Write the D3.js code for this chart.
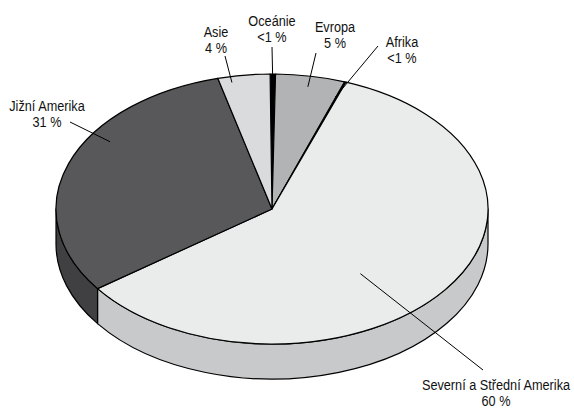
<!DOCTYPE html>
<html>
<head>
<meta charset="utf-8">
<script src="https://cdn.jsdelivr.net/npm/d3@7"></script>
<style>
  body { margin: 0; background: #fff; }
  svg text { font-family: "Liberation Sans", Arial, sans-serif; font-size: 15.5px; fill: #111; }
</style>
</head>
<body>
<div id="chart"></div>
<script>
// data, clockwise from the top
const regions = ['Oceánie', 'Evropa', 'Afrika', 'Severní a Střední Amerika', 'Jižní Amerika', 'Asie'];
const shares  = [0.4, 5.2, 0.1, 59.4, 31.0, 3.9];
const shareLabels = ['<1 %', '5 %', '<1 %', '60 %', '31 %', '4 %'];

// look
const topColors  = ['#000000', '#b2b3b4', '#eaeceb', '#eaeceb', '#58585a', '#dadbdc'];
const sideColors = ['#000000', '#8e8f90', '#c8c9cb', '#c8c9cb', '#404042', '#b4b5b7'];

// label layout: text centre, first baseline, leader end (angle in deg, radius factor)
const labelPos = [
  {x: 272, y: 26,  a: 0.2,   k: 0.96},
  {x: 335, y: 32,  a: 10.4,  k: 0.92},
  {x: 402, y: 47,  a: 19.5,  k: 0.88},
  {x: 496, y: 390, a: 139.5, k: 0.63},
  {x: 47,  y: 111, a: 303.6, k: 0.90},
  {x: 216, y: 37,  a: -11.2, k: 0.955}
];
const leaderStart = [[272, 47], [316, 53], [378, 46], [483, 370], [70, 122], [225, 56]];

const W = 574, H = 410;
const cx = 272, cy = 209, rx = 216, ry = 135, depth = 35;

const svg = d3.select('#chart').append('svg')
    .attr('width', W).attr('height', H);

const rad = d => d * Math.PI / 180;
const pt = (t, dz) => [cx + rx * Math.sin(t), cy - ry * Math.cos(t) + (dz || 0)];

const pie = d3.pie().sort(null).value(d => d)
    .startAngle(rad(-0.5)).endAngle(rad(359.5));
const arcs = pie(shares);

// side walls (front half only)
arcs.forEach((a, i) => {
  const s = Math.max(a.startAngle, Math.PI / 2);
  const e = Math.min(a.endAngle, 3 * Math.PI / 2);
  if (e <= s) return;
  const p0 = pt(s), p1 = pt(e), q1 = pt(e, depth), q0 = pt(s, depth);
  const large = (e - s) > Math.PI ? 1 : 0;
  const d = `M${p0}A${rx},${ry} 0 ${large} 1 ${p1}L${q1}A${rx},${ry} 0 ${large} 0 ${q0}Z`;
  svg.append('path').attr('d', d)
    .attr('fill', sideColors[i])
    .attr('stroke', '#000').attr('stroke-width', 1.2)
    .attr('stroke-linejoin', 'round');
});

// top faces
arcs.forEach((a, i) => {
  const p0 = pt(a.startAngle), p1 = pt(a.endAngle);
  const large = (a.endAngle - a.startAngle) > Math.PI ? 1 : 0;
  const d = `M${cx},${cy}L${p0}A${rx},${ry} 0 ${large} 1 ${p1}Z`;
  svg.append('path').attr('d', d)
    .attr('fill', topColors[i])
    .attr('stroke', '#000').attr('stroke-width', 1.2)
    .attr('stroke-linejoin', 'round');
});

// leaders
labelPos.forEach((l, i) => {
  const end = [cx + rx * l.k * Math.sin(rad(l.a)), cy - ry * l.k * Math.cos(rad(l.a))];
  svg.append('line')
    .attr('x1', leaderStart[i][0]).attr('y1', leaderStart[i][1])
    .attr('x2', end[0]).attr('y2', end[1])
    .attr('stroke', '#000').attr('stroke-width', 1);
});

// labels (narrowed horizontally to mimic a condensed face)
labelPos.forEach((l, i) => {
  const g = svg.append('g').attr('transform', `translate(${l.x},${l.y}) scale(0.82,1)`);
  const t = g.append('text').attr('text-anchor', 'middle');
  t.append('tspan').attr('x', 0).attr('y', 0).text(regions[i]);
  t.append('tspan').attr('x', 0).attr('y', 16).text(shareLabels[i]);
});
</script>
</body>
</html>
